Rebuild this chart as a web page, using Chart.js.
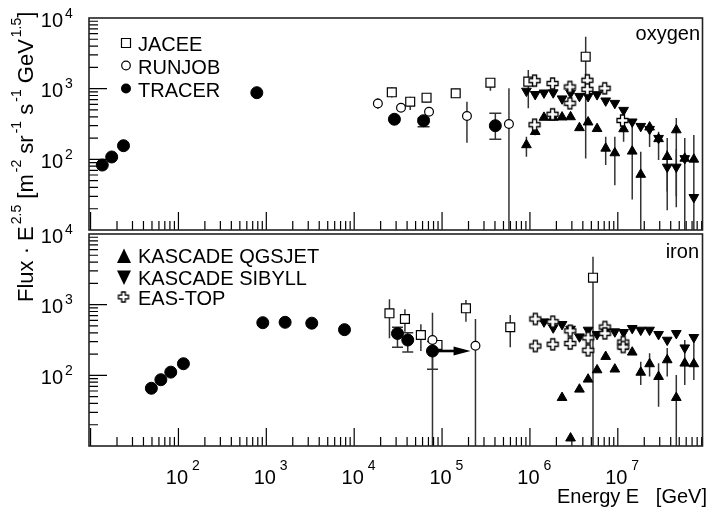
<!DOCTYPE html>
<html>
<head>
<meta charset="utf-8">
<script src="https://cdn.jsdelivr.net/npm/chart.js@4.4.0/dist/chart.umd.min.js"></script>
<style>
body { margin: 0; background: #fff; }
#wrap { position: relative; width: 710px; height: 512px; }
canvas { position: absolute; left: 0; top: 0; }
</style>
</head>
<body>
<div id="wrap">
  <canvas id="oxygenChart" width="710" height="512"></canvas>
  <canvas id="ironChart" width="710" height="512"></canvas>
</div>
<script>
// axis ranges (GeV, flux)
const xMin = 9.6, xMax = 9.2e7;
const yMin = 10, yMax = 1e4;
const xDecades = [2, 3, 4, 5, 6, 7];
const yDecades = [2, 3, 4];

// ---------------- oxygen ----------------
const tracerOxyE  = [13.6, 17.4, 23.7, 780, 2.87e4, 6.16e4, 4.04e5];
const tracerOxyF  = [83, 108, 156, 877, 369, 352, 299];
const tracerOxyLo = [null, null, null, null, null, 290, 192];
const tracerOxyHi = [null, null, null, null, null, 380, 448];

const runjobOxyE  = [1.86e4, 3.41e4, 7.11e4, 1.92e5, 5.77e5];
const runjobOxyF  = [617, 538, 471, 410, 316];
const runjobOxyLo = [520, 480, null, 172, 1];
const runjobOxyHi = [730, 600, null, 654, 1012];

const jaceeOxyE  = [2.68e4, 4.34e4, 6.66e4, 1.43e5, 3.55e5, 9.58e5, 4.31e6];
const jaceeOxyF  = [889, 654, 745, 860, 1214, 1256, 2834];
const jaceeOxyLo = [750, 499, 640, 740, 935, 527, 103];
const jaceeOxyHi = [1050, 770, 870, 1000, 1300, 1836, 5435];

const kascadeOxyE = [9.12e5, 1.148e6, 1.445e6, 1.84e6, 2.32e6, 2.90e6, 3.66e6, 4.59e6, 5.81e6, 7.28e6,
                     9.25e6, 1.164e7, 1.459e7, 1.824e7, 2.30e7, 2.91e7, 3.65e7, 4.63e7, 5.78e7, 7.33e7];
const qgsOxyF  = [160, 246, 391, 391, 395, 398, 279, 336, 271, 143, 123, 269, 130, 61, 285, 195, 109, 260, 103, 100];
const qgsOxyLo = [109, 220, null, null, null, null, 255, null, 245, 83, 43, 178, 27, 1, 150, 98, 19, 21, 1, 1];
const qgsOxyHi = [209, 270, null, null, null, null, 305, null, 300, 209, 209, 306, 361, 128, 326, 246, 200, 385, 200, 221];
const sibOxyF  = [927, 832, 874, 879, 721, 869, 782, 778, 827, 674, 623, 496, 340, 294, 267, 199, 78, 78, 103, 29];
const sibOxyLo = [null, null, null, null, null, null, null, null, null, null, null, null, null, null, null, null, 35, 30, null, null];
const sibOxyHi = [null, null, null, null, null, null, null, null, null, null, null, null, null, null, null, null, 135, 140, null, null];

const easOxyE = [1.13e6, 1.13e6, 1.81e6, 1.81e6, 2.85e6, 2.85e6, 4.5e6, 4.5e6, 7.1e6, 1.13e7];
const easOxyF = [1297, 309, 1183, 434, 1056, 621, 1313, 979, 1012, 355];

// ---------------- iron ----------------
const tracerFeE  = [49.2, 63.1, 81.8, 114, 912, 1637, 3290, 7760, 3.11e4, 4.07e4, 7.78e4];
const tracerFeF  = [65.6, 86.7, 111, 146, 556, 563, 547, 443, 391, 316, 221];
const tracerFeLo = [null, null, null, null, null, null, null, null, 249, 214, 122];
const tracerFeHi = [null, null, null, null, null, null, null, null, 480, 400, 300];

const runjobFeE  = [7.78e4, 2.40e5];
const runjobFeF  = [316, 262];
const runjobFeLo = [1, 1];
const runjobFeHi = [770, 627];

const jaceeFeE  = [2.52e4, 3.78e4, 5.74e4, 8.87e4, 1.87e5, 5.97e5, 5.22e6];
const jaceeFeF  = [755, 627, 372, 269, 889, 479, 2408];
const jaceeFeLo = [334, 415, 221, 240, 574, 249, 1];
const jaceeFeHi = [1191, 860, 527, 300, 1164, 714, 4772];

const sibFeE = [1.445e6, 1.84e6, 2.32e6, 2.90e6, 3.66e6, 4.59e6, 5.81e6, 7.28e6, 9.25e6,
                1.164e7, 1.459e7, 1.824e7, 2.30e7, 2.91e7, 3.65e7, 4.63e7, 5.78e7, 7.33e7];
const sibFeF = [574, 472, 527, 453, 352, 438, 381, 424, 415, 406, 463, 438, 438, 381, 316, 393, 246, 345];

const qgsFeE  = [2.32e6, 2.90e6, 3.66e6, 4.59e6, 5.81e6, 7.28e6, 9.25e6, 1.164e7,
                 1.459e7, 1.824e7, 2.30e7, 2.91e7, 3.65e7, 4.63e7, 5.78e7, 7.33e7];
const qgsFeF  = [48.3, 12.9, 63.4, 87.9, 119, 184, 122, 256, 212, 110, 145, 95.7, 165, 48.3, 148, 145];
const qgsFeLo = [null, null, null, null, null, null, null, null, null, 73, 96, 36, 96, 1, 73, 86];
const qgsFeHi = [null, null, null, null, null, null, null, null, null, 156, 205, 148, 244, 101, 316, 316];

const easFeE = [1.15e6, 1.15e6, 1.82e6, 1.82e6, 2.87e6, 2.87e6, 4.59e6, 4.59e6, 7.13e6, 7.13e6, 1.15e7, 1.15e7];
const easFeF = [627, 260, 574, 275, 427, 282, 340, 226, 483, 393, 296, 252];

// TRACER upper-limit arrow in the iron panel
const arrowFeE = [7.78e4, 2.11e5];
const arrowFeF = [221, 221];

const FONT = '"Liberation Sans", Arial, Helvetica, sans-serif';

// open cross marker (EAS-TOP)
function makeCross(half, arm) {
  const s = Math.ceil(2 * half + 4);
  const c = document.createElement('canvas');
  c.width = s; c.height = s;
  const g = c.getContext('2d');
  const m = s / 2;
  g.translate(m, m);
  g.beginPath();
  g.moveTo(-arm, -half); g.lineTo(arm, -half); g.lineTo(arm, -arm); g.lineTo(half, -arm);
  g.lineTo(half, arm); g.lineTo(arm, arm); g.lineTo(arm, half); g.lineTo(-arm, half);
  g.lineTo(-arm, arm); g.lineTo(-half, arm); g.lineTo(-half, -arm); g.lineTo(-arm, -arm);
  g.closePath();
  g.fillStyle = '#fff'; g.fill();
  g.strokeStyle = '#000'; g.lineWidth = 1.3; g.stroke();
  return c;
}
const crossBig = makeCross(5.5, 2);
const crossSmall = makeCross(5, 1.8);

const styles = {
  dot:    { pointStyle: 'circle', pointRadius: 6, pointBackgroundColor: '#000', pointBorderColor: '#000', pointBorderWidth: 1 },
  circle: { pointStyle: 'circle', pointRadius: 4.4, pointBackgroundColor: '#fff', pointBorderColor: '#000', pointBorderWidth: 1.2 },
  square: { pointStyle: 'rect', pointRadius: 6.3, pointBackgroundColor: '#fff', pointBorderColor: '#000', pointBorderWidth: 1.2 },
  up:     { pointStyle: 'triangle', pointRadius: 5.6, pointBackgroundColor: '#000', pointBorderColor: '#000', pointBorderWidth: 1 },
  down:   { pointStyle: 'triangle', pointRotation: 180, pointRadius: 5.6, pointBackgroundColor: '#000', pointBorderColor: '#000', pointBorderWidth: 1 },
  cross:  { pointStyle: crossBig, pointRadius: 6 }
};

function series(label, xs, ys, style, order, lo, hi, cap) {
  return Object.assign({
    label: label,
    data: xs.map((x, i) => ({ x: x, y: ys[i] })),
    showLine: false,
    order: order,
    errLo: lo || null,
    errHi: hi || null,
    cap: cap || 0
  }, styles[style]);
}

// error bars under the markers
function drawErrors(chart) {
  const ctx = chart.ctx, a = chart.chartArea;
  const xs = chart.scales.x, ys = chart.scales.y;
  ctx.save();
  ctx.beginPath();
  ctx.rect(a.left, a.top, a.right - a.left, a.bottom - a.top);
  ctx.clip();
  ctx.strokeStyle = '#333';
  ctx.lineWidth = 1.5;
  chart.data.datasets.forEach(ds => {
    if (!ds.errLo) return;
    ds.data.forEach((p, i) => {
      const lo = ds.errLo[i], hi = ds.errHi[i];
      if (lo == null || hi == null) return;
      const x = xs.getPixelForValue(p.x);
      const y1 = ys.getPixelForValue(lo);
      const y2 = ys.getPixelForValue(hi);
      ctx.beginPath();
      ctx.moveTo(x, y1); ctx.lineTo(x, y2);
      if (ds.cap) {
        ctx.moveTo(x - ds.cap / 2, y1); ctx.lineTo(x + ds.cap / 2, y1);
        ctx.moveTo(x - ds.cap / 2, y2); ctx.lineTo(x + ds.cap / 2, y2);
      }
      ctx.stroke();
    });
  });
  ctx.restore();
}

function drawArrow(chart, ex, fy) {
  const ctx = chart.ctx;
  const xs = chart.scales.x, ys = chart.scales.y;
  const x1 = xs.getPixelForValue(ex[0]), x2 = xs.getPixelForValue(ex[1]);
  const y = ys.getPixelForValue(fy[0]);
  ctx.save();
  ctx.strokeStyle = '#000'; ctx.fillStyle = '#000';
  ctx.lineWidth = 2.6;
  ctx.beginPath(); ctx.moveTo(x1, y); ctx.lineTo(x2 - 14, y); ctx.stroke();
  ctx.beginPath();
  ctx.moveTo(x2, y); ctx.lineTo(x2 - 17, y - 4.5); ctx.lineTo(x2 - 17, y + 4.5);
  ctx.closePath(); ctx.fill();
  ctx.restore();
}

function drawFrameAndTicks(chart) {
  const ctx = chart.ctx, a = chart.chartArea;
  const xs = chart.scales.x, ys = chart.scales.y;
  ctx.save();
  ctx.strokeStyle = '#000';
  ctx.lineWidth = 1.2;
  ctx.beginPath();
  for (let d = 0; d <= 8; d++) {
    for (let m = 1; m <= 9; m++) {
      const v = m * Math.pow(10, d);
      if (v <= xs.min || v >= xs.max) continue;
      const px = xs.getPixelForValue(v);
      ctx.moveTo(px, a.bottom); ctx.lineTo(px, a.bottom - (m === 1 ? 18 : 9));
    }
  }
  for (let d = 1; d <= 4; d++) {
    for (let m = 1; m <= 9; m++) {
      const v = m * Math.pow(10, d);
      if (v <= ys.min || v >= ys.max) continue;
      const py = ys.getPixelForValue(v);
      ctx.moveTo(a.left, py); ctx.lineTo(a.left + (m === 1 ? 18 : 9), py);
    }
  }
  ctx.stroke();
  ctx.strokeStyle = '#222';
  ctx.lineWidth = 1.6;
  ctx.strokeRect(a.left, a.top, a.right - a.left, a.bottom - a.top);
  ctx.restore();
}

function drawTickLabels(chart, withX) {
  const ctx = chart.ctx, a = chart.chartArea;
  const xs = chart.scales.x, ys = chart.scales.y;
  ctx.save();
  ctx.fillStyle = '#000';
  ctx.textBaseline = 'alphabetic';
  yDecades.forEach(d => {
    const py = ys.getPixelForValue(Math.pow(10, d));
    ctx.font = '20px ' + FONT; ctx.textAlign = 'right';
    ctx.fillText('10', 63, py + 8.5);
    ctx.font = '14px ' + FONT; ctx.textAlign = 'left';
    ctx.fillText(String(d), 65, py - 0.5);
  });
  if (withX) {
    xDecades.forEach(d => {
      const px = xs.getPixelForValue(Math.pow(10, d)) - 1.5;
      ctx.font = '20px ' + FONT; ctx.textAlign = 'center';
      ctx.fillText('10', px, a.bottom + 38);
      ctx.font = '14px ' + FONT; ctx.textAlign = 'left';
      ctx.fillText(String(d), px + 15, a.bottom + 24);
    });
  }
  ctx.restore();
}

function drawLegend(ctx, items) {
  ctx.save();
  items.forEach(it => {
    const x = it.mx, y = it.my;
    ctx.fillStyle = '#000'; ctx.strokeStyle = '#000'; ctx.lineWidth = 1.2;
    ctx.beginPath();
    if (it.kind === 'square') {
      ctx.rect(x - 4.5, y - 4.5, 9, 9);
      ctx.fillStyle = '#fff'; ctx.fill(); ctx.stroke();
    } else if (it.kind === 'circle') {
      ctx.arc(x, y, 4.3, 0, Math.PI * 2);
      ctx.fillStyle = '#fff'; ctx.fill(); ctx.stroke();
    } else if (it.kind === 'dot') {
      ctx.arc(x, y, 5, 0, Math.PI * 2); ctx.fill();
    } else if (it.kind === 'up') {
      ctx.moveTo(x, y - 7.5); ctx.lineTo(x + 7, y + 7); ctx.lineTo(x - 7, y + 7); ctx.closePath(); ctx.fill();
    } else if (it.kind === 'down') {
      ctx.moveTo(x, y + 7.5); ctx.lineTo(x + 7, y - 7); ctx.lineTo(x - 7, y - 7); ctx.closePath(); ctx.fill();
    } else if (it.kind === 'cross') {
      ctx.drawImage(crossSmall, x - crossSmall.width / 2, y - crossSmall.height / 2);
    }
    ctx.fillStyle = '#000';
    ctx.font = '20px ' + FONT; ctx.textAlign = 'left'; ctx.textBaseline = 'alphabetic';
    ctx.fillText(it.text, 138, it.ty);
  });
  ctx.restore();
}

function drawTitles(ctx) {
  ctx.save();
  ctx.fillStyle = '#000';
  ctx.textBaseline = 'alphabetic';
  ctx.font = '20px ' + FONT; ctx.textAlign = 'right';
  ctx.fillText('Energy E   [GeV]', 707, 503);
  // rotated y title with superscripts
  const parts = [['Flux \u00b7 E', 0], ['2.5', 1], [' [m', 0], ['-2', 1], [' sr', 0], ['-1', 1],
                 [' s', 0], ['-1', 1], [' GeV', 0], ['1.5', 1], [']', 0]];
  ctx.translate(33, 302);
  ctx.rotate(-Math.PI / 2);
  ctx.textAlign = 'left';
  let u = 0;
  parts.forEach(p => {
    ctx.font = (p[1] ? '14px ' : '22px ') + FONT;
    if (p[1]) u += 2;
    ctx.fillText(p[0], u, p[1] ? -12 : 0);
    u += ctx.measureText(p[0]).width;
  });
  ctx.restore();
}

function panelPlugin(cfg) {
  return {
    id: 'panel_' + cfg.name,
    beforeDatasetsDraw(chart) { drawErrors(chart); },
    afterDatasetsDraw(chart) {
      if (cfg.arrowE) drawArrow(chart, cfg.arrowE, cfg.arrowF);
    },
    afterDraw(chart) {
      const ctx = chart.ctx;
      drawFrameAndTicks(chart);
      drawTickLabels(chart, cfg.xLabels);
      drawLegend(ctx, cfg.legend);
      ctx.save();
      ctx.fillStyle = '#000';
      ctx.font = '20px ' + FONT; ctx.textAlign = 'right'; ctx.textBaseline = 'alphabetic';
      ctx.fillText(cfg.name, cfg.nameX, cfg.nameY);
      ctx.restore();
      if (cfg.titles) drawTitles(ctx);
    }
  };
}

function makeChart(id, datasets, pad, cfg) {
  return new Chart(document.getElementById(id), {
    type: 'scatter',
    data: { datasets: datasets },
    options: {
      responsive: false,
      animation: false,
      events: [],
      layout: { padding: pad },
      plugins: { legend: { display: false }, tooltip: { enabled: false } },
      scales: {
        x: { type: 'logarithmic', min: xMin, max: xMax, display: false },
        y: { type: 'logarithmic', min: yMin, max: yMax, display: false }
      }
    },
    plugins: [panelPlugin(cfg)]
  });
}

makeChart('oxygenChart', [
  series('TRACER', tracerOxyE, tracerOxyF, 'dot', 0, tracerOxyLo, tracerOxyHi, 12),
  series('RUNJOB', runjobOxyE, runjobOxyF, 'circle', 1, runjobOxyLo, runjobOxyHi),
  series('EAS-TOP', easOxyE, easOxyF, 'cross', 2),
  series('JACEE', jaceeOxyE, jaceeOxyF, 'square', 3, jaceeOxyLo, jaceeOxyHi),
  series('KASCADE SIBYLL', kascadeOxyE, sibOxyF, 'down', 4, sibOxyLo, sibOxyHi),
  series('KASCADE QGSJET', kascadeOxyE, qgsOxyF, 'up', 5, qgsOxyLo, qgsOxyHi)
], { left: 89, right: 3, top: 18, bottom: 282 }, {
  name: 'oxygen', nameX: 700, nameY: 39.5, xLabels: false,
  legend: [
    { kind: 'square', mx: 126, my: 43, text: 'JACEE', ty: 51 },
    { kind: 'circle', mx: 126, my: 65.5, text: 'RUNJOB', ty: 74 },
    { kind: 'dot', mx: 126, my: 88.5, text: 'TRACER', ty: 96.7 }
  ]
});

makeChart('ironChart', [
  series('TRACER', tracerFeE, tracerFeF, 'dot', 0, tracerFeLo, tracerFeHi, 11),
  series('RUNJOB', runjobFeE, runjobFeF, 'circle', 1, runjobFeLo, runjobFeHi),
  series('EAS-TOP', easFeE, easFeF, 'cross', 2),
  series('JACEE', jaceeFeE, jaceeFeF, 'square', 3, jaceeFeLo, jaceeFeHi),
  series('KASCADE SIBYLL', sibFeE, sibFeF, 'down', 4),
  series('KASCADE QGSJET', qgsFeE, qgsFeF, 'up', 5, qgsFeLo, qgsFeHi)
], { left: 89, right: 3, top: 234, bottom: 66 }, {
  name: 'iron', nameX: 699, nameY: 258, xLabels: true, titles: true,
  arrowE: arrowFeE, arrowF: arrowFeF,
  legend: [
    { kind: 'up', mx: 124, my: 256, text: 'KASCADE QGSJET', ty: 263 },
    { kind: 'down', mx: 124, my: 277.5, text: 'KASCADE SIBYLL', ty: 285 },
    { kind: 'cross', mx: 123.5, my: 297, text: 'EAS-TOP', ty: 305 }
  ]
});
</script>
</body>
</html>
